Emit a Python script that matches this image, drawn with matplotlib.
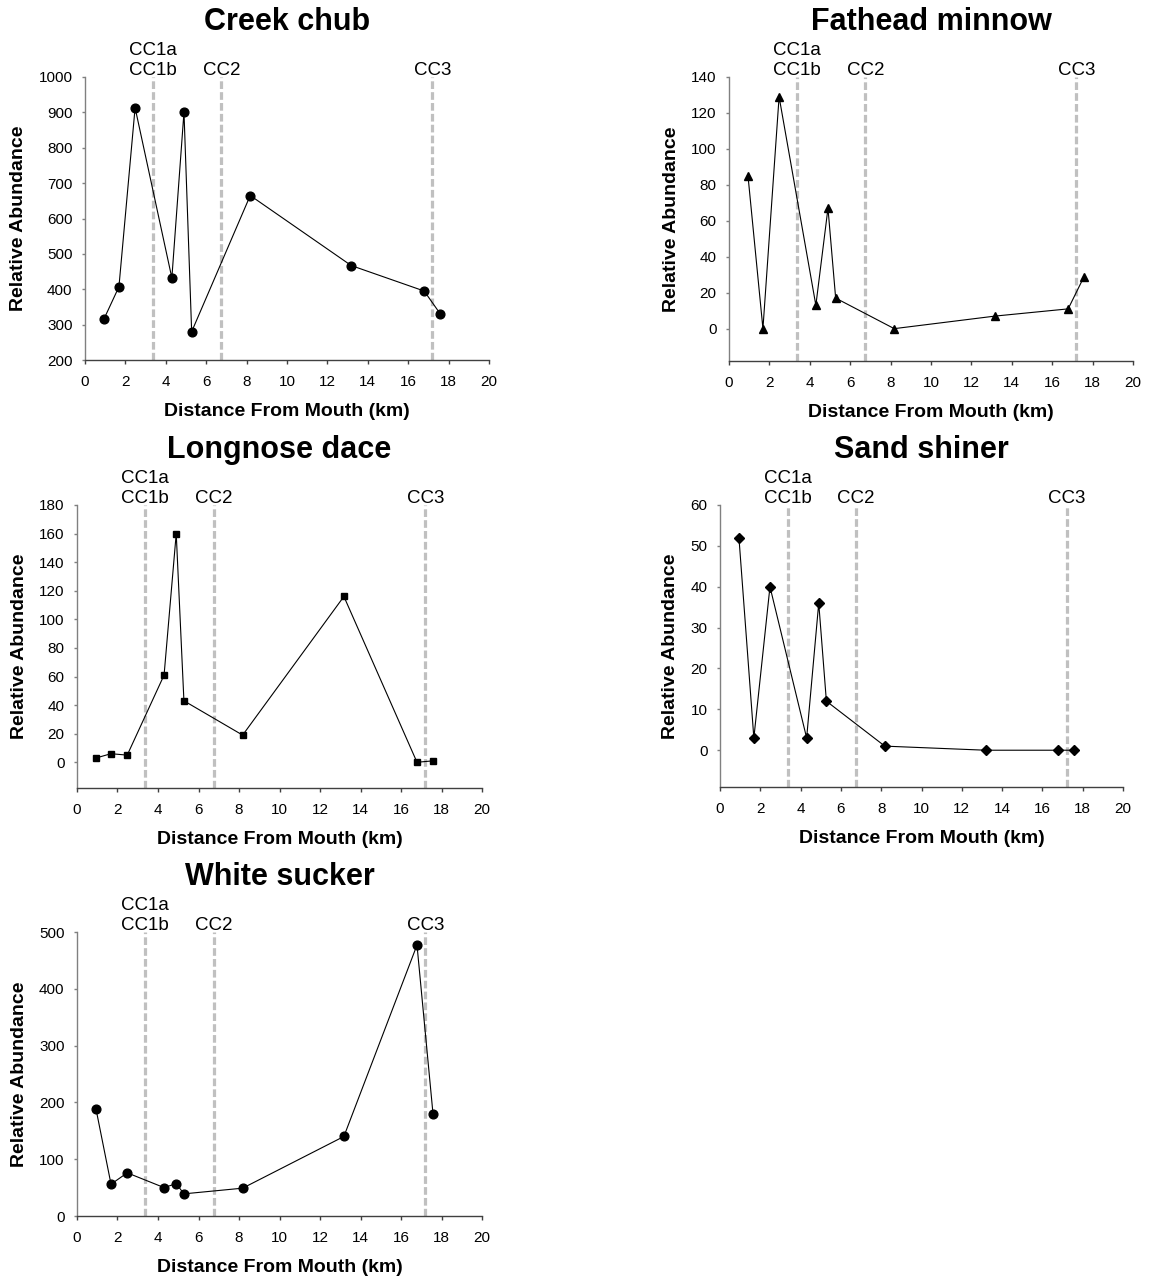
import matplotlib
matplotlib.use("Agg")
import matplotlib.pyplot as plt

plt.rcParams['font.family'] = ['Liberation Sans', 'DejaVu Sans']

# ---- data ----
distance_km = [0.94, 1.68, 2.48, 4.3, 4.9, 5.28, 8.18, 13.18, 16.79, 17.58]
creek_chub = [316, 407, 913, 432, 901, 280, 665, 467, 395, 331]
fathead_minnow = [85, 0, 129, 13, 67, 17, 0, 7, 11, 29]
longnose_dace = [3, 6, 5, 61, 160, 43, 19, 116, 0, 1]
sand_shiner = [52, 3, 40, 3, 36, 12, 1, 0, 0, 0]
white_sucker = [188, 56, 76, 50, 57, 39, 49, 140, 477, 180]

site_km = [3.35, 6.75, 17.2]
site_labels = ["CC1a\nCC1b", "CC2", "CC3"]

x_ticks = list(range(0, 21, 2))

panels = [
    # title, values, marker, markersize, ylim, yticks, bbox px (left, top, right, bottom)
    ("Creek chub", creek_chub, 'o', 6.3, (200, 1000), list(range(200, 1001, 100)), (85, 77, 489, 360)),
    ("Fathead minnow", fathead_minnow, '^', 6.0, (-18, 140), list(range(0, 141, 20)), (729, 77, 1133, 361)),
    ("Longnose dace", longnose_dace, 's', 5.0, (-18, 180), list(range(0, 181, 20)), (77, 505, 482, 788)),
    ("Sand shiner", sand_shiner, 'D', 4.6, (-9, 60), list(range(0, 61, 10)), (720, 505, 1123, 787)),
    ("White sucker", white_sucker, 'o', 6.3, (0, 500), list(range(0, 501, 100)), (77, 932, 482, 1216)),
]

W, H = 1150, 1281
fig = plt.figure(figsize=(W / 100, H / 100), dpi=100)

for title, vals, mk, ms, ylim, yticks, (l, t, r, b) in panels:
    ax = fig.add_axes([l / W, 1 - b / H, (r - l) / W, (b - t) / H])
    for xs in site_km:
        ax.axvline(xs, color='#C0C0C0', lw=2.3, linestyle=(0, (2.4, 1.0)), zorder=1)
    ax.plot(distance_km, vals, color='black', lw=0.8, marker=mk, markersize=ms,
            markerfacecolor='black', markeredgecolor='black', zorder=3)
    ax.set_xlim(0, 20)
    ax.set_ylim(*ylim)
    ax.set_xticks(x_ticks)
    ax.set_yticks(yticks)
    for s in ('top', 'right'):
        ax.spines[s].set_visible(False)
    ax.spines['left'].set_color('#808080')
    ax.spines['bottom'].set_color('#404040')
    ax.spines['left'].set_linewidth(1.0)
    ax.spines['bottom'].set_linewidth(1.0)
    ax.tick_params(axis='y', direction='out', length=2.5, width=1.0, color='#808080',
                   labelsize=11, pad=6.5)
    ax.tick_params(axis='x', direction='out', length=3, width=1.0, color='#404040',
                   labelsize=11, pad=7.5)
    ax.set_xlabel("Distance From Mouth (km)", fontsize=14, fontweight='bold', labelpad=10.5)
    ax.set_ylabel("Relative Abundance", fontsize=14, fontweight='bold', labelpad=8)
    ax.set_title(title, fontsize=22, fontweight='bold', pad=34)
    for xs, lab in zip(site_km, site_labels):
        ax.annotate(lab, xy=(xs, 1.0), xycoords=('data', 'axes fraction'),
                    xytext=(0, 1.5), textcoords='offset points',
                    ha='center', va='baseline', fontsize=13.5, linespacing=1.2,
                    annotation_clip=False)

fig.savefig("out.png", dpi=100)
